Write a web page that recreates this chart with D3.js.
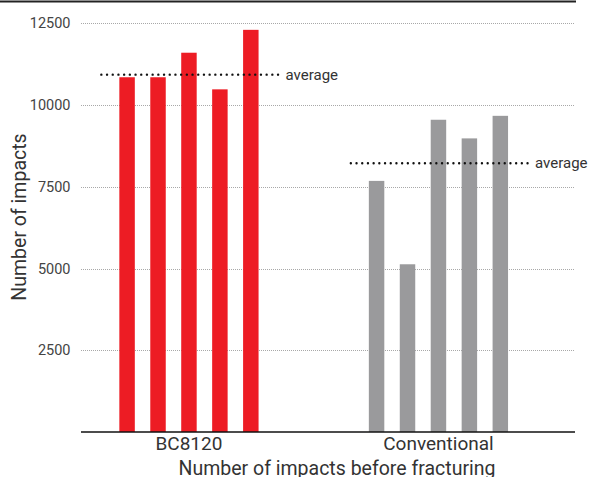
<!DOCTYPE html>
<html><head><meta charset="utf-8">
<script src="https://cdn.jsdelivr.net/npm/d3@7"></script>
<style>body{margin:0;background:#fff;} svg{display:block;font-family:Roboto,"Noto Sans",sans-serif;}</style>
</head><body>
<svg id="c" width="589" height="477"></svg>
<script>
const categories = ["BC8120", "Conventional"];
const bcValues = [10850, 10850, 11600, 10480, 12300];
const convValues = [7680, 5130, 9550, 8980, 9670];
const averages = [10930, 8220];
const yTicks = [2500, 5000, 7500, 10000, 12500];
const colors = ["#ed1c24", "#9a9a9c"];
const series = [bcValues, convValues];

const svg = d3.select("#c");
const plotL = 81, plotR = 575, plotT = 23.3, plotB = 432;

const y = d3.scaleLinear().domain([0, 12500]).range([plotB, plotT]);
const xg = d3.scaleBand().domain(categories).range([66.7, 560.7]).paddingInner(0.38).paddingOuter(0.18);
const xi = d3.scaleBand().domain(d3.range(5)).range([0, xg.bandwidth()]).paddingInner(0.5).paddingOuter(0.25);

// top border
svg.append("line").attr("x1", 0).attr("x2", 576).attr("y1", 1.5).attr("y2", 1.5)
  .attr("stroke", "#222").attr("stroke-width", 2);

// gridlines
svg.append("g").selectAll("line").data(yTicks).join("line")
  .attr("x1", plotL).attr("x2", plotR)
  .attr("y1", d => Math.round(y(d)) + 0.5).attr("y2", d => Math.round(y(d)) + 0.5)
  .attr("stroke", "#a8a8a8").attr("stroke-width", 1).attr("stroke-dasharray", "1,1");

// y tick labels
const yAxis = d3.axisLeft(y).tickValues(yTicks).tickSize(0).tickPadding(0).tickFormat(d3.format("d"));
const ga = svg.append("g").attr("transform", `translate(70.5,0)`).call(yAxis);
ga.select(".domain").remove();
ga.selectAll("text").attr("font-size", "14.5px").attr("fill", "#444").attr("font-family", "Roboto, sans-serif");

// bars
categories.forEach((c, ci) => {
  svg.append("g").selectAll("rect").data(series[ci]).join("rect")
    .attr("x", (d, i) => xg(c) + xi(i))
    .attr("width", xi.bandwidth())
    .attr("y", d => y(d))
    .attr("height", d => y(0) - y(d))
    .attr("fill", colors[ci]);
});

// baseline
svg.append("line").attr("x1", plotL).attr("x2", plotR).attr("y1", plotB).attr("y2", plotB)
  .attr("stroke", "#111").attr("stroke-width", 1.5);

// average lines
categories.forEach((c, ci) => {
  const x0 = xg(c) + xi(0) - 18;
  const x1 = xg(c) + xi(4) + xi.bandwidth() + 24;
  const yy = y(averages[ci]);
  svg.append("line").attr("x1", x0).attr("x2", x1).attr("y1", yy).attr("y2", yy)
    .attr("stroke", "#111").attr("stroke-width", 2.4).attr("stroke-linecap", "round")
    .attr("stroke-dasharray", "0,5.7");
  svg.append("text").attr("x", x1 + 3).attr("y", yy + 1).attr("dominant-baseline", "middle")
    .attr("font-size", "15px").attr("fill", "#333").text("average");
});

// category labels
svg.append("g").selectAll("text").data(categories).join("text")
  .attr("x", d => xg(d) + xg.bandwidth() / 2).attr("y", 450)
  .attr("text-anchor", "middle").attr("font-size", "19px").attr("fill", "#333").text(d => d);

// axis titles
svg.append("text").attr("x", 337).attr("y", 475).attr("text-anchor", "middle")
  .attr("font-size", "19.5px").attr("fill", "#333").text("Number of impacts before fracturing");
svg.append("text").attr("transform", "translate(26,217) rotate(-90)").attr("text-anchor", "middle")
  .attr("font-size", "19.5px").attr("fill", "#333").text("Number of impacts");
</script>
</body></html>
